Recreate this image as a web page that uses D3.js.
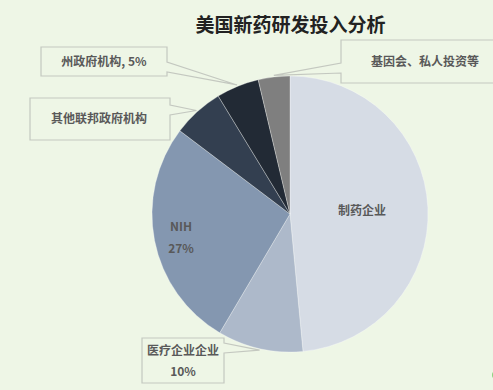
<!DOCTYPE html>
<html>
<head>
<meta charset="utf-8">
<script src="https://cdn.jsdelivr.net/npm/d3@7/dist/d3.min.js"></script>
<style>
  html, body { margin: 0; padding: 0; background: #eef6e6; }
  svg { display: block; }
  text { font-family: "Noto Sans CJK SC", "Noto Sans", sans-serif; }
</style>
</head>
<body>
<script>
// ---- data ----
const categories = ["制药企业", "医疗企业企业", "NIH", "其他联邦政府机构", "州政府机构", "基因会、私人投资等"];
const values = [48.5, 10, 26.8, 6, 5, 3.7];
const labelLines = [
  ["制药企业"],
  ["医疗企业企业", "10%"],
  ["NIH", "27%"],
  ["其他联邦政府机构"],
  ["州政府机构, 5%"],
  ["基因会、私人投资等"]
];
const colors = ["#d6dce5", "#adb9ca", "#8497b0", "#333f50", "#222a35", "#7f7f7f"];
const title = "美国新药研发投入分析";

// ---- layout ----
const W = 493, H = 390;
const cx = 290, cy = 214, R = 138;

const svg = d3.select("body").append("svg").attr("width", W).attr("height", H);
svg.append("rect").attr("width", W).attr("height", H).attr("fill", "#eef6e6");

svg.append("text")
  .attr("x", 290.5).attr("y", 32)
  .attr("text-anchor", "middle")
  .attr("font-size", 19).attr("font-weight", "bold")
  .attr("fill", "#222222")
  .text(title);

const data = categories.map((c, i) => ({ name: c, value: values[i], lines: labelLines[i], color: colors[i] }));
const pie = d3.pie().sort(null).value(d => d.value);
const arcs = pie(data);
const arc = d3.arc().innerRadius(0).outerRadius(R);

const g = svg.append("g").attr("transform", `translate(${cx},${cy})`);
g.selectAll("path").data(arcs).enter().append("path")
  .attr("d", arc)
  .attr("fill", d => d.data.color)
  .attr("stroke", "#ffffff").attr("stroke-opacity", 0.5).attr("stroke-width", 0.6);

// inside labels
const inside = { 0: [362, 211], 2: [181, 227] };
const labelColor = "#595959";
Object.keys(inside).forEach(k => {
  const d = arcs[+k];
  const [x, y] = inside[k];
  d.data.lines.forEach((ln, j) => {
    svg.append("text")
      .attr("x", x).attr("y", y + j * 22)
      .attr("dy", "0.35em")
      .attr("text-anchor", "middle")
      .attr("font-size", 12).attr("font-weight", "bold")
      .attr("fill", labelColor)
      .text(ln);
  });
});

// callout labels: box [x0,y0,x1,y1], side of pointer, pointer y range on that side
const callouts = [
  { i: 1, box: [142, 338, 224, 383], side: "right", p: [343, 353], text: [183, 351], gap: 21 },
  { i: 3, box: [30, 98, 170, 140], side: "right", p: [105, 115], text: [99, 119], gap: 0 },
  { i: 4, box: [41, 47, 167, 76], side: "right", p: [62, 72], text: [104, 62], gap: 0 },
  { i: 5, box: [341, 40, 500, 83], side: "left", p: [63, 73], text: [425, 62], gap: 0 }
];

const angleOf = d => (d.startAngle + d.endAngle) / 2;
callouts.forEach(c => {
  const d = arcs[c.i];
  const a = angleOf(d);
  const tip = [cx + (R + 1.5) * Math.sin(a), cy - (R + 1.5) * Math.cos(a)];
  const [x0, y0, x1, y1] = c.box;
  let pts;
  if (c.side === "right") {
    pts = [[x0, y0], [x1, y0], [x1, c.p[0]], tip, [x1, c.p[1]], [x1, y1], [x0, y1]];
  } else {
    pts = [[x0, y0], [x1, y0], [x1, y1], [x0, y1], [x0, c.p[1]], tip, [x0, c.p[0]]];
  }
  svg.append("path")
    .attr("d", "M" + pts.map(p => p.join(",")).join("L") + "Z")
    .attr("fill", "#eef6e6")
    .attr("stroke", "#c4c8c0").attr("stroke-width", 1.2);
  d.data.lines.forEach((ln, j) => {
    svg.append("text")
      .attr("x", c.text[0]).attr("y", c.text[1] + j * c.gap)
      .attr("dy", "0.35em")
      .attr("text-anchor", "middle")
      .attr("font-size", 12).attr("font-weight", "bold")
      .attr("fill", labelColor)
      .text(ln);
  });
});

// small decoration at the bottom-right edge
svg.append("circle").attr("cx", 496).attr("cy", 375).attr("r", 4).attr("fill", "#8fd07f");
</script>
</body>
</html>
